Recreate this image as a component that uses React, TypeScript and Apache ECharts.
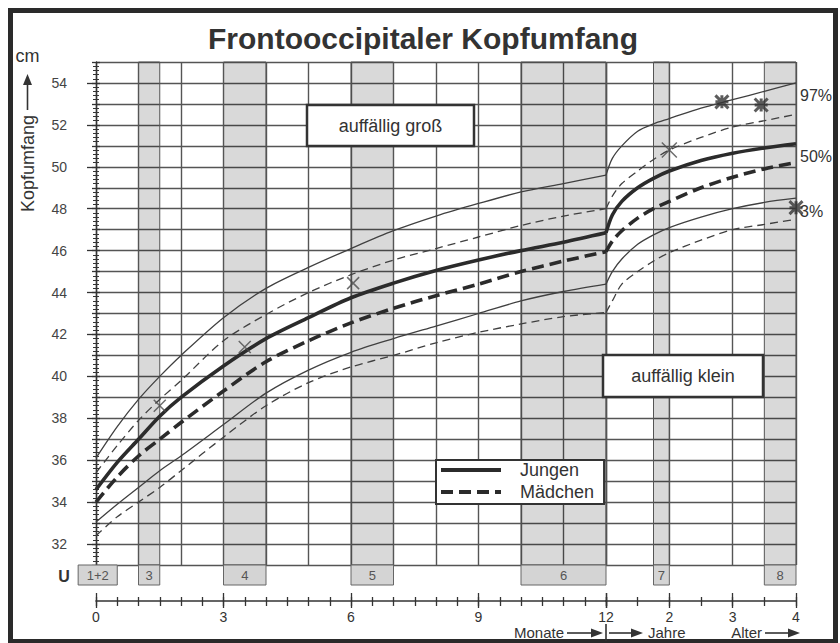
import React, { useEffect, useRef } from 'react';
import * as echarts from 'echarts';

const TITLE = 'Frontooccipitaler Kopfumfang';
const FONT = '"Liberation Sans", Arial, Helvetica, sans-serif';

// x positions: months (first year) and years (1-4)
const monthsX = [0, 0.5, 1, 1.5, 2, 3, 4, 5, 6, 7, 8, 9, 10, 11, 12];
const yearsX = [1, 1.1, 1.25, 1.5, 1.75, 2, 2.5, 3, 3.5, 4];

// head circumference (cm), months part
const boys97M = [36.1, 37.6, 38.9, 40.0, 41.0, 42.8, 44.2, 45.2, 46.1, 46.95, 47.65, 48.25, 48.8, 49.2, 49.6];
const boys50M = [34.6, 35.9, 37.0, 38.1, 39.0, 40.5, 41.8, 42.8, 43.75, 44.45, 45.05, 45.55, 46.0, 46.4, 46.85];
const boys3M = [33.05, 33.9, 34.7, 35.5, 36.2, 37.7, 39.2, 40.3, 41.15, 41.8, 42.4, 43.0, 43.6, 44.05, 44.4];
const girls97M = [35.4, 36.7, 37.9, 38.9, 39.8, 41.7, 42.95, 44.0, 44.85, 45.55, 46.1, 46.65, 47.2, 47.65, 48.0];
const girls50M = [34.0, 35.2, 36.2, 37.0, 37.8, 39.3, 40.7, 41.7, 42.55, 43.25, 43.85, 44.4, 45.0, 45.5, 45.95];
const girls3M = [32.4, 33.3, 34.0, 34.7, 35.5, 37.1, 38.6, 39.7, 40.45, 41.0, 41.6, 42.1, 42.5, 42.85, 43.05];

// years part
const boys97Y = [49.6, 50.4, 51.0, 51.7, 52.05, 52.3, 52.8, 53.2, 53.6, 54.0];
const boys50Y = [46.85, 47.7, 48.35, 49.0, 49.45, 49.8, 50.3, 50.65, 50.9, 51.1];
const boys3Y = [44.4, 45.0, 45.6, 46.3, 46.75, 47.1, 47.6, 48.0, 48.3, 48.5];
const girls97Y = [48.0, 48.6, 49.2, 49.8, 50.35, 50.8, 51.4, 51.9, 52.2, 52.5];
const girls50Y = [45.95, 46.45, 46.95, 47.55, 48.0, 48.35, 49.0, 49.5, 49.9, 50.2];
const girls3Y = [43.05, 43.6, 44.4, 45.0, 45.5, 45.9, 46.5, 47.0, 47.25, 47.5];

const percentLabels = ['97%', '50%', '3%'];

// U examination bands
const uBandsMonths: [number, number][] = [[1, 1.5], [3, 4], [6, 7], [10, 12]];
const uBandsYears: [number, number][] = [[1.75, 2], [3.5, 4]];
const uRowMonths: [string, number, number][] = [['1+2', -0.42, 0.5], ['3', 1, 1.5], ['4', 3, 4], ['5', 6, 7], ['6', 10, 12]];
const uRowYears: [string, number, number][] = [['7', 1.75, 2], ['8', 3.5, 4]];

// hand-drawn measurement crosses
const marksMonths = [[1.5, 38.6], [3.5, 41.4], [6.05, 44.45]];
const marksYearsThin = [[2.0, 50.8]];
const marksYearsBold = [[2.83, 53.1], [3.45, 52.95], [4.0, 48.05]];

// tick labels
const monthLabels = [0, 3, 6, 9, 12];
const yearLabels = [2, 3, 4];
const yLabelValues = [32, 34, 36, 38, 40, 42, 44, 46, 48, 50, 52, 54];

const GRID = '#555';
const AX = '#333';
const THIN = '#404040';
const THICK = '#2b2b2b';

function ax(grid: number, min: number, max: number, o: any) {
  return {
    type: 'value', gridIndex: grid, min, max, position: 'bottom',
    axisLine: { show: false }, axisTick: { show: false }, axisLabel: { show: false }, splitLine: { show: false },
    ...o,
  };
}
function ay(grid: number, min: number, max: number, o: any) {
  return {
    type: 'value', gridIndex: grid, min, max, position: 'left',
    axisLine: { show: false }, axisTick: { show: false }, axisLabel: { show: false }, splitLine: { show: false },
    ...o,
  };
}
const tickStyle = { color: AX, width: 1.3 };

function curve(name: string, xs: number[], ys: number[], xi: number, yi: number, thick: boolean, dashed: boolean, extra: any = {}) {
  return {
    type: 'line', name, xAxisIndex: xi, yAxisIndex: yi,
    data: xs.map((x, i) => [x, ys[i]]),
    smooth: 0.3, symbol: 'none', silent: true, z: 3,
    itemStyle: { color: thick ? THICK : THIN },
    lineStyle: {
      color: thick ? THICK : THIN,
      width: thick ? 3.6 : 1.3,
      type: dashed ? (thick ? [12, 6] : [8, 5]) : 'solid',
    },
    ...extra,
  };
}

const bandStyle = { color: 'rgba(0,0,0,0.15)', borderColor: '#555', borderWidth: 1 };
const uRowStyle = { color: '#d4d4d4', borderColor: '#666', borderWidth: 1 };

function arrowH(x1: number, x2: number, y: number) {
  return [
    { type: 'line', shape: { x1, y1: y, x2: x2 - 8, y2: y }, style: { stroke: '#333', lineWidth: 1.6 }, z: 10, silent: true },
    { type: 'polygon', shape: { points: [[x2, y], [x2 - 12, y - 4.5], [x2 - 12, y + 4.5]] }, style: { fill: '#333' }, z: 10, silent: true },
  ];
}

export default function App() {
  const ref = useRef<HTMLDivElement>(null);
  useEffect(() => {
    if (!ref.current) return;
    const chart = echarts.init(ref.current, null, { renderer: 'svg' });
    const endLbl = (t: string) => ({ show: true, formatter: t, distance: 4, offset: [0, 13], fontSize: 16, color: '#333', fontFamily: FONT });
    const option: any = {
      animation: false,
      backgroundColor: '#fff',
      textStyle: { fontFamily: FONT },
      title: {
        text: TITLE, left: 208, top: 23, padding: 0,
        textStyle: { fontSize: 30, fontWeight: 'bold', color: '#333', fontFamily: FONT },
      },
      legend: {
        data: ['Jungen', 'Mädchen'], orient: 'vertical', left: 436, top: 460,
        itemWidth: 60, itemHeight: 17, itemGap: 4, padding: [1, 10, 3, 3],
        backgroundColor: '#fff', borderColor: '#333', borderWidth: 2, borderRadius: 0,
        selectedMode: false, z: 8,
        itemStyle: { opacity: 0, borderWidth: 0 },
        lineStyle: { width: 4, color: THICK },
        textStyle: { fontSize: 18, color: '#333', fontFamily: FONT, padding: [0, 0, 0, 14] },
      },
      grid: [
        { left: 96, top: 62, width: 510, height: 503 },
        { left: 606, top: 62, width: 190, height: 503 },
        { left: 78.15, top: 565, width: 527.85, height: 20 },
        { left: 606, top: 565, width: 190, height: 20 },
      ],
      xAxis: [
        ax(0, 0, 12, { interval: 1, splitLine: { show: true, lineStyle: { color: GRID, width: 1.4 } } }),
        ax(0, 0, 12, { interval: 0.5, offset: 36, axisLine: { show: true, lineStyle: { color: AX, width: 1.6 } }, axisTick: { show: true, length: 5, lineStyle: tickStyle } }),
        ax(0, 0, 12, { interval: 0.5, offset: 36, axisTick: { show: true, inside: true, length: 4, lineStyle: tickStyle } }),
        ax(0, 0, 12, { interval: 3, offset: 36, axisTick: { show: true, length: 7, lineStyle: tickStyle }, axisLabel: { show: true, margin: 9, fontSize: 14, color: '#333', formatter: (v: number) => (monthLabels.includes(v) ? String(v) : '') } }),
        ax(0, 0, 12, { interval: 3, offset: 36, axisTick: { show: true, inside: true, length: 8, lineStyle: tickStyle } }),
        ax(1, 1, 4, { interval: 1, splitLine: { show: true, lineStyle: { color: GRID, width: 1.4 } } }),
        ax(1, 1, 4, { interval: 0.5, offset: 36, axisLine: { show: true, lineStyle: { color: AX, width: 1.6 } }, axisTick: { show: true, length: 5, lineStyle: tickStyle } }),
        ax(1, 1, 4, { interval: 0.5, offset: 36, axisTick: { show: true, inside: true, length: 4, lineStyle: tickStyle } }),
        ax(1, 1, 4, { interval: 1, offset: 36, axisTick: { show: true, length: 7, lineStyle: tickStyle }, axisLabel: { show: true, margin: 9, fontSize: 14, color: '#333', formatter: (v: number) => (yearLabels.includes(v) ? String(v) : '') } }),
        ax(1, 1, 4, { interval: 1, offset: 36, axisTick: { show: true, inside: true, length: 8, lineStyle: tickStyle } }),
        ax(2, -0.42, 12, {}),
        ax(3, 1, 4, {}),
      ],
      yAxis: [
        ay(0, 31, 55, { interval: 1, splitLine: { show: true, lineStyle: { color: GRID, width: 1.4 } } }),
        ay(0, 31, 55, {
          interval: 1, offset: 19,
          axisLine: { show: true, lineStyle: { color: AX, width: 1.4 } },
          axisTick: { show: true, length: 4, lineStyle: tickStyle },
          minorTick: { show: true, splitNumber: 5, length: 3, lineStyle: { color: AX, width: 1 } },
          axisLabel: { show: true, margin: 10, fontSize: 14, color: '#444', formatter: (v: number) => (yLabelValues.includes(v) ? String(v) : '') },
        }),
        ay(0, 31, 55, {
          interval: 1, offset: 19,
          axisTick: { show: true, inside: true, length: 4, lineStyle: tickStyle },
          minorTick: { show: true, splitNumber: 5, length: 3, lineStyle: { color: AX, width: 1 } },
        }),
        ay(0, 31, 55, { interval: 1, offset: 19, axisTick: { show: true, length: 9, customValues: yLabelValues, lineStyle: tickStyle } }),
        ay(1, 31, 55, { interval: 1, splitLine: { show: true, lineStyle: { color: GRID, width: 1.4 } } }),
        ay(2, 0, 1, {}),
        ay(3, 0, 1, {}),
      ],
      series: [
        curve('Jungen', monthsX, boys50M, 0, 0, true, false, {
          markArea: { silent: true, itemStyle: bandStyle, data: uBandsMonths.map(([a, b]) => [{ xAxis: a }, { xAxis: b }]) },
        }),
        curve('Mädchen', monthsX, girls50M, 0, 0, true, true),
        curve('Jungen 97%', monthsX, boys97M, 0, 0, false, false),
        curve('Jungen 3%', monthsX, boys3M, 0, 0, false, false),
        curve('Mädchen 97%', monthsX, girls97M, 0, 0, false, true),
        curve('Mädchen 3%', monthsX, girls3M, 0, 0, false, true),
        curve('Jungen 50% (Jahre)', yearsX, boys50Y, 5, 4, true, false, {
          endLabel: endLbl(percentLabels[1]),
          markArea: { silent: true, itemStyle: bandStyle, data: uBandsYears.map(([a, b]) => [{ xAxis: a }, { xAxis: b }]) },
        }),
        curve('Mädchen 50% (Jahre)', yearsX, girls50Y, 5, 4, true, true),
        curve('Jungen 97% (Jahre)', yearsX, boys97Y, 5, 4, false, false, { endLabel: endLbl(percentLabels[0]) }),
        curve('Jungen 3% (Jahre)', yearsX, boys3Y, 5, 4, false, false, { endLabel: endLbl(percentLabels[2]) }),
        curve('Mädchen 97% (Jahre)', yearsX, girls97Y, 5, 4, false, true),
        curve('Mädchen 3% (Jahre)', yearsX, girls3Y, 5, 4, false, true),
        {
          type: 'line', name: 'U-Monate', xAxisIndex: 10, yAxisIndex: 5, data: [], silent: true,
          markArea: {
            silent: true, itemStyle: uRowStyle,
            label: { show: true, position: 'inside', color: '#555', fontSize: 13, fontFamily: FONT },
            data: uRowMonths.map(([n, a, b]) => [{ name: n, xAxis: a }, { xAxis: b }]),
          },
        },
        {
          type: 'line', name: 'U-Jahre', xAxisIndex: 11, yAxisIndex: 6, data: [], silent: true,
          markArea: {
            silent: true, itemStyle: uRowStyle,
            label: { show: true, position: 'inside', color: '#555', fontSize: 13, fontFamily: FONT },
            data: uRowYears.map(([n, a, b]) => [{ name: n, xAxis: a }, { xAxis: b }]),
          },
        },
        {
          type: 'scatter', name: 'Messung', xAxisIndex: 0, yAxisIndex: 0, data: marksMonths, clip: false, silent: true, z: 5,
          symbol: 'path://M0 0L10 10M10 0L0 10', symbolSize: 12,
          itemStyle: { color: 'rgba(0,0,0,0)', borderColor: '#4a4a4a', borderWidth: 1.5 },
        },
        {
          type: 'scatter', name: 'Messung J', xAxisIndex: 5, yAxisIndex: 4, data: marksYearsThin, clip: false, silent: true, z: 5,
          symbol: 'path://M0 0L10 10M10 0L0 10', symbolSize: 15,
          itemStyle: { color: 'rgba(0,0,0,0)', borderColor: '#4a4a4a', borderWidth: 1.5 },
        },
        {
          type: 'scatter', name: 'Messung JB', xAxisIndex: 5, yAxisIndex: 4, data: marksYearsBold, clip: false, silent: true, z: 5,
          symbol: 'path://M0 0L10 10M10 0L0 10M5 0L5 10M0 5L10 5', symbolSize: 13,
          itemStyle: { color: 'rgba(0,0,0,0)', borderColor: '#333', borderWidth: 3 },
        },
      ],
      graphic: {
        elements: [
          { type: 'rect', shape: { x: 10.5, y: 10.5, width: 825, height: 631 }, style: { fill: 'none', stroke: '#2a2a2a', lineWidth: 5 }, z: 10, silent: true },
          { type: 'text', x: 27.5, y: 55.5, style: { text: 'cm', fontSize: 18, fontFamily: FONT, fill: '#333', align: 'center', verticalAlign: 'middle' }, z: 10, silent: true },
          { type: 'text', x: 27.5, y: 163.5, rotation: Math.PI / 2, style: { text: 'Kopfumfang', fontSize: 18, fontFamily: FONT, fill: '#333', align: 'center', verticalAlign: 'middle' }, z: 10, silent: true },
          { type: 'line', shape: { x1: 27.5, y1: 110, x2: 27.5, y2: 82 }, style: { stroke: '#333', lineWidth: 1.6 }, z: 10, silent: true },
          { type: 'polygon', shape: { points: [[27.5, 74], [23, 85], [32, 85]] }, style: { fill: '#333' }, z: 10, silent: true },
          { type: 'rect', shape: { x: 307, y: 105, width: 167, height: 41 }, style: { fill: '#fff', stroke: '#333', lineWidth: 2.5 }, z: 10, silent: true },
          { type: 'text', x: 390.5, y: 125.5, style: { text: 'auffällig groß', fontSize: 18, fontFamily: FONT, fill: '#333', align: 'center', verticalAlign: 'middle' }, z: 11, silent: true },
          { type: 'rect', shape: { x: 603, y: 355, width: 160, height: 42 }, style: { fill: '#fff', stroke: '#333', lineWidth: 2.5 }, z: 10, silent: true },
          { type: 'text', x: 683, y: 376, style: { text: 'auffällig klein', fontSize: 18, fontFamily: FONT, fill: '#333', align: 'center', verticalAlign: 'middle' }, z: 11, silent: true },
          { type: 'text', x: 64, y: 576, style: { text: 'U', fontSize: 16, fontWeight: 'bold', fontFamily: FONT, fill: '#333', align: 'center', verticalAlign: 'middle' }, z: 10, silent: true },
          { type: 'text', x: 564, y: 632, style: { text: 'Monate', fontSize: 15, fontFamily: FONT, fill: '#333', align: 'right', verticalAlign: 'middle' }, z: 10, silent: true },
          ...arrowH(567, 603, 633),
          { type: 'line', shape: { x1: 606, y1: 624, x2: 606, y2: 641 }, style: { stroke: '#333', lineWidth: 1.6 }, z: 10, silent: true },
          ...arrowH(609, 643, 633),
          { type: 'text', x: 648, y: 632, style: { text: 'Jahre', fontSize: 15, fontFamily: FONT, fill: '#333', align: 'left', verticalAlign: 'middle' }, z: 10, silent: true },
          { type: 'text', x: 762, y: 632, style: { text: 'Alter', fontSize: 15, fontFamily: FONT, fill: '#333', align: 'right', verticalAlign: 'middle' }, z: 10, silent: true },
          ...arrowH(765, 800, 633),
        ],
      },
    };
    chart.setOption(option);
    return () => chart.dispose();
  }, []);
  return <div ref={ref} style={{ position: 'absolute', left: 0, top: 0, width: 840, height: 643, background: '#fff' }} />;
}
